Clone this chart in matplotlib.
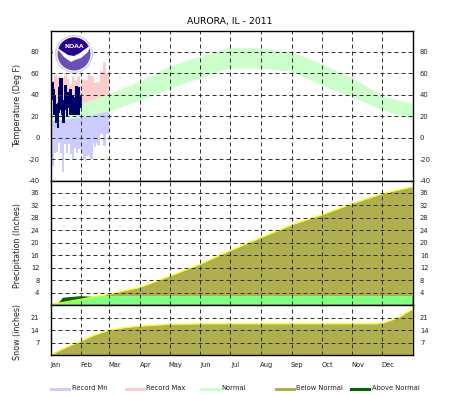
"""
Yearly climate summary for Aurora, IL: temperature, precipitation, snow.
"""
import matplotlib
matplotlib.use("Agg")
import matplotlib.pyplot as plt
from matplotlib.patches import Circle, Polygon, PathPatch
plt.rc("axes", unicode_minus=False)

W, H = 463., 395.

months = ["Jan", "Feb", "Mar", "Apr", "May", "Jun", "Jul", "Aug", "Sep", "Oct", "Nov", "Dec"]
month_start = [0, 31, 59, 90, 120, 151, 181, 212, 243, 273, 304, 334]

# records for Jan + Feb, one value a day
rec_max = [61, 61, 52, 53, 59, 58, 59, 57, 56, 58, 57, 56, 55, 56, 59, 58, 59, 55, 55, 50, 49, 50,
           58, 57, 54, 55, 53, 58, 57, 58, 49, 48, 54, 55, 54, 53, 54, 54, 59, 59, 58, 58, 58, 57,
           51, 51, 52, 52, 51, 52, 62, 62, 61, 71, 71, 70, 59, 59, 60]
rec_min = [-12, -12, -26, -26, -14, -14, -13, -13, -5, -5, -14, -14, -32, -32, -6, -6, -14, -14,
           -6, -6, -15, -15, -20, -20, -10, -10, -14, -14, -11, -11, -11, -11, -15, -20, -20, -23,
           -17, -17, -16, -18, -20, -20, -20, -5, -9, -9, -5, -7, -8, -7, 3, 3, 3, -8, -8, -8, 3, 3, 3]
record_split = 25  # hidden behind the normal band

# observed daily high / low for Jan
obs_high = [49, 52, 52, 45, 40, 31, 31, 32, 47, 56, 56, 56, 35, 35, 49, 49, 41, 43, 43, 45, 45,
            40, 40, 38, 38, 48, 48, 47, 47, 40, 40]
obs_low = [26, 35, 35, 21, 21, 14, 14, 9, 23, 26, 26, 21, 14, 14, 26, 26, 20, 28, 28, 21, 21,
           21, 21, 21, 21, 21, 21, 21, 21, 28, 28]

normal_days = [0, 31, 59, 90, 120, 151, 181, 207, 243, 273, 304, 334, 364]
normal_high = [30, 32, 41, 53, 67, 76, 84, 84, 80, 69, 56, 39, 32]
normal_low = [16, 19, 25, 35, 46, 56, 65, 65, 62, 49, 38, 26, 18]

precip_days = [0, 31, 59, 90, 120, 151, 181, 212, 243, 273, 304, 334, 364]
precip_normal = [0.1, 1.9, 3.5, 5.7, 9.3, 13.2, 17.5, 21.7, 25.8, 29.0, 32.6, 35.8, 38.0]
obs_precip_days = [0, 4, 8, 12, 30, 41, 364]
obs_precip = [0.5, 0.6, 0.9, 2.5, 3.0, 2.8, 2.8]

snow_days = [0, 10, 20, 31, 45, 59, 75, 90, 120, 151, 212, 273, 327, 334, 350, 364]
snow_normal = [0.2, 3, 5.5, 8, 11.5, 14, 15.5, 16.3, 17.3, 17.6, 17.6, 17.6, 17.6, 17.8, 21, 25.6]

temp_ticks = [-40, -20, 0, 20, 40, 60, 80]
precip_ticks = [4, 8, 12, 16, 20, 24, 28, 32, 36]
snow_ticks = [7, 14, 21]

legend_names = ["Record Mn", "Record Max", "Normal", "Below Normal", "Above Normal"]

c_recmin = "#ccccff"
c_recmax = "#ffcccc"
c_normal = "#ccffcc"
c_below = "#afaf50"
c_above = "#006600"
c_obs = "#000066"
c_bright = "#80ff80"
c_line = "#ffff00"
c_grid = "#333333"
c_text = "#222222"
fs = 4.9
fs_lab = 5.8


def panel(top, bot):
    ax = fig.add_axes([50.5/W, 1-bot/H, (413-50.5)/W, (bot-top)/H])
    ax.set_xlim(0, 365)
    for s in ax.spines.values():
        s.set_linewidth(1.0)
        s.set_zorder(8)
    ax.tick_params(length=0, labelsize=fs, labelcolor=c_text, pad=8)
    ax.set_xticks([])
    return ax


def add_grid(ax, yticks):
    for m in month_start[1:]:
        ax.axvline(m, color=c_grid, lw=0.72, ls=(0, (4, 3)), zorder=6)
    for t in yticks:
        ax.axhline(t, color=c_grid, lw=0.72, ls=(0, (4, 3)), zorder=6)
    ax.set_yticks(yticks)
    rax = ax.twinx()
    rax.set_ylim(ax.get_ylim())
    rax.set_yticks(yticks)
    rax.tick_params(length=0, labelsize=fs, labelcolor=c_text, pad=5)
    for s in rax.spines.values():
        s.set_visible(False)


fig = plt.figure(figsize=(W/100, H/100), dpi=100)

# temperature
ax1 = panel(30.5, 180.5)
ax1.set_ylim(-40, 100)
rec_days = list(range(len(rec_max)))
ax1.bar(rec_days, [record_split - v for v in rec_min], bottom=rec_min, width=1.0, align="edge",
        color=c_recmin, lw=0, zorder=1)
ax1.bar(rec_days, [v - record_split for v in rec_max], bottom=record_split, width=1.0, align="edge",
        color=c_recmax, lw=0, zorder=1)
ax1.fill_between(normal_days, normal_low, normal_high, color=c_normal, lw=0, zorder=2)
obs_days = list(range(len(obs_high)))
ax1.bar(obs_days, [a - b for a, b in zip(obs_high, obs_low)], bottom=obs_low, width=1.8, align="edge",
        color=c_obs, lw=0, zorder=3)
add_grid(ax1, temp_ticks)
ax1.set_ylabel("Temperature (Deg F)", fontsize=fs_lab, color=c_text)
ax1.yaxis.set_label_coords(-0.078, 0.5)

# precipitation: bright green only where the total is under normal
ax2 = panel(180.5, 305)
ax2.set_ylim(0, 40)
ax2.fill_between(obs_precip_days, 0, obs_precip, color=c_above, lw=0, zorder=1)
below = ax2.fill_between(precip_days, 0, precip_normal, color=c_below, lw=0, zorder=2)
bright = ax2.fill_between(obs_precip_days, 0, obs_precip, color=c_bright, lw=0, zorder=3)
bright.set_clip_path(PathPatch(below.get_paths()[0], transform=ax2.transData))
ax2.plot(precip_days, precip_normal, color=c_line, lw=0.8, zorder=4)
add_grid(ax2, precip_ticks)
ax2.set_ylabel("Precipitation (Inches)", fontsize=fs_lab, color=c_text)
ax2.yaxis.set_label_coords(-0.078, 0.474)

# snow
ax3 = panel(305, 355.3)
ax3.set_ylim(0, 28)
ax3.fill_between(snow_days, 0, snow_normal, color=c_below, lw=0, zorder=1)
ax3.plot(snow_days, snow_normal, color=c_line, lw=0.8, zorder=4)
add_grid(ax3, snow_ticks)
ax3.set_ylabel("Snow (inches)", fontsize=fs_lab, color=c_text)
ax3.yaxis.set_label_coords(-0.078, 0.47)
ax3.set_xticks([m + 5.5 for m in month_start])
ax3.set_xticklabels(months, fontsize=fs, color=c_text)
ax3.tick_params(axis="x", length=0, pad=5)

fig.text(230/W, 1-21.5/H, "AURORA, IL - 2011", ha="center", va="center", fontsize=6.7, color="black")

# logo, opaque box over the grid
logo = fig.add_axes([53/W, 1-73/H, 41/W, 40/H])
logo.set_xlim(53, 94)
logo.set_ylim(73, 33)
logo.axis("off")
logo.set_zorder(10)
logo.add_patch(plt.Rectangle((53, 33), 41, 40, color="white", lw=0))
logo.add_patch(Circle((74, 54), 19, fc="#d4d4e6", ec="none"))
logo.add_patch(Circle((74, 54), 17.5, fc="white", ec="none"))
disc = Circle((74, 54), 16.5, fc="#6a50b4", ec="none")
logo.add_patch(disc)
dark = Polygon([[55, 30], [95, 30], [95, 47], [86, 53], [78, 58], [72, 58], [62, 53], [55, 47]],
               fc="#28008c", ec="none")
logo.add_patch(dark)
dark.set_clip_path(disc)
swoosh = Polygon([[56, 47], [62, 51], [68, 55], [74, 56], [80, 53], [92, 44], [88, 52], [81, 58],
                  [75, 60], [71, 62], [64, 57]], fc="white", ec="none")
logo.add_patch(swoosh)
logo.text(74, 46, "NOAA", color="white", fontsize=4.4, fontweight="bold", ha="center", va="center")

# legend row under the panels
legend_cols = [c_recmin, c_recmax, c_normal, c_below, c_above]
legend_x = [50, 125, 200, 275, 350]
for x0, n, c in zip(legend_x, legend_names, legend_cols):
    fig.add_artist(plt.Rectangle((x0/W, 1-391/H), 21/W, 3/H, transform=fig.transFigure, color=c, lw=0))
    fig.text((x0+21.5)/W, 1-387.5/H, n, fontsize=fs, color=c_text, ha="left", va="center")

fig.savefig("out.png", dpi=100)
